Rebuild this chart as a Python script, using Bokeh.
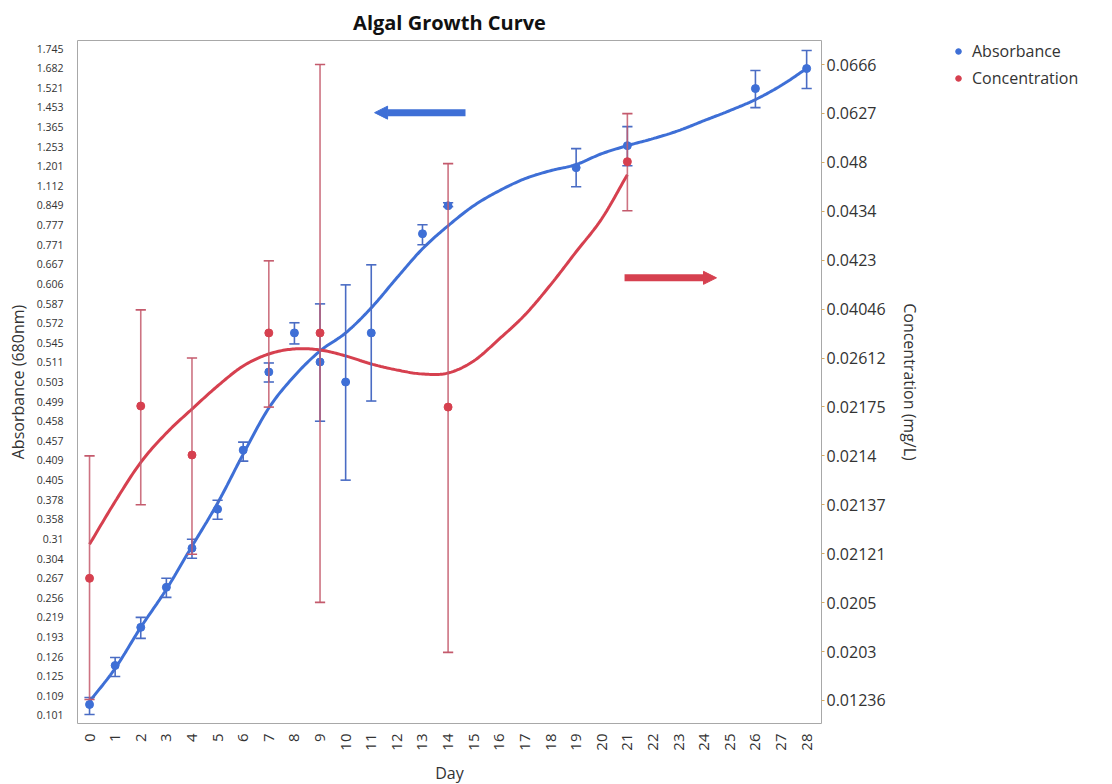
import numpy as np
from bokeh.plotting import figure
from bokeh.layouts import row
from bokeh.models import (Range1d, LinearAxis, FixedTicker, ColumnDataSource,
                          Arrow, NormalHead, Legend, LegendItem)
from bokeh.embed import file_html
from bokeh.resources import INLINE

# ---- axis categories (ordered, evenly spaced on each axis) ----
abs_tick_labels = ["0.101", "0.109", "0.125", "0.126", "0.193", "0.219", "0.256",
                   "0.267", "0.304", "0.31", "0.358", "0.378", "0.405", "0.409",
                   "0.457", "0.458", "0.499", "0.503", "0.511", "0.545", "0.572",
                   "0.587", "0.606", "0.667", "0.771", "0.777", "0.849", "1.112",
                   "1.201", "1.253", "1.365", "1.453", "1.521", "1.682", "1.745"]
conc_tick_labels = ["0.01236", "0.0203", "0.0205", "0.02121", "0.02137", "0.0214",
                    "0.02175", "0.02612", "0.04046", "0.0423", "0.0434", "0.048",
                    "0.0627", "0.0666"]
day_ticks = list(range(29))

# ---- absorbance (680 nm): mean and error bar ends ----
abs_days = [0, 1, 2, 3, 4, 5, 6, 7, 8, 9, 10, 11, 13, 14, 19, 21, 26, 28]
abs_mean = [0.10549, 0.12555, 0.20581, 0.26188, 0.30715, 0.36834, 0.43439, 0.50709,
            0.55855, 0.51171, 0.503, 0.55855, 0.77434, 0.84792, 1.19433, 1.25838,
            1.51814, 1.67862]
abs_upper = [0.10835, 0.12596, 0.21911, 0.26693, 0.30991, 0.37752, 0.45398, 0.51076,
             0.57229, 0.58673, 0.60509, 0.66535, 0.77808, 0.8853, 1.24754, 1.36658,
             1.6622, 1.73857]
abs_lower = [0.10141, 0.12486, 0.18838, 0.25626, 0.30409, 0.35812, 0.40887, 0.503,
             0.54296, 0.45804, 0.40492, 0.49912, 0.77038, 0.84425, 1.10017, 1.2024,
             1.45194, 1.51814]

# ---- concentration (mg/L): mean and error bar ends ----
conc_days = [0, 2, 4, 7, 9, 14, 21]
conc_mean = [0.020853, 0.021833, 0.021406, 0.033477, 0.033477, 0.021749, 0.048206]
conc_upper = [0.0214, 0.040231, 0.026149, 0.042276, 0.0666, 0.047876, 0.062656]
conc_lower = [0.012523, 0.02137, 0.021202, 0.021749, 0.020504, 0.020165, 0.043451]

# ---- fitted smoothing curves, sampled per day ----
abs_fit_days = list(range(29))
abs_fit = [0.10672, 0.12540, 0.20581, 0.26076, 0.30777, 0.37446, 0.42455, 0.48559,
           0.50546, 0.53082, 0.55855, 0.58367, 0.62485, 0.74916, 0.77678, 0.84792,
           1.04651, 1.1444, 1.18071, 1.20541, 1.23428, 1.25838, 1.29847, 1.34417,
           1.3936, 1.43848, 1.480, 1.53887, 1.67862]
conc_fit_days = list(range(22))
conc_fit = [0.021241, 0.021372, 0.021396, 0.021563, 0.021735, 0.023620, 0.025412,
            0.027310, 0.028787, 0.028486, 0.026737, 0.025591, 0.025054, 0.024695,
            0.024783, 0.025858, 0.031727, 0.038768, 0.041373, 0.042489, 0.043232,
            0.046841]

BLUE = "#3e6fd6"
RED = "#d6404f"
BLUE_BAR = "#4a6cc4"
RED_BAR = "#c45a6c"
FONT = "Open Sans"

abs_vals = [float(s) for s in abs_tick_labels]
conc_vals = [float(s) for s in conc_tick_labels]


def abs_pos(v):
    return np.interp(v, abs_vals, np.arange(len(abs_vals)))


def conc_pos(v):
    return np.interp(v, conc_vals, np.arange(len(conc_vals)))


def smooth(xk, yk, n=16):
    """Catmull-Rom curve through the sampled fit values."""
    xk = np.asarray(xk, float)
    yk = np.asarray(yk, float)
    yp = np.concatenate([[2 * yk[0] - yk[1]], yk, [2 * yk[-1] - yk[-2]]])
    xs, ys = [], []
    t = np.linspace(0, 1, n, endpoint=False)
    for i in range(len(xk) - 1):
        p0, p1, p2, p3 = yp[i], yp[i + 1], yp[i + 2], yp[i + 3]
        y = 0.5 * (2 * p1 + (-p0 + p2) * t + (2 * p0 - 5 * p1 + 4 * p2 - p3) * t ** 2
                   + (-p0 + 3 * p1 - 3 * p2 + p3) * t ** 3)
        xs.extend(xk[i] + (xk[i + 1] - xk[i]) * t)
        ys.extend(y)
    xs.append(xk[-1])
    ys.append(yk[-1])
    return xs, ys


p = figure(frame_width=744, frame_height=683, output_backend="svg",
           toolbar_location=None,
           x_range=Range1d(-0.47, 28.58), y_range=Range1d(-0.408, 34.408),
           min_border_left=77, min_border_right=130, min_border_top=40,
           min_border_bottom=61)
p.extra_y_ranges = {"conc": Range1d(-0.471, 13.491)}

p.title.text = "Algal Growth Curve"
p.title.align = "center"
p.title.text_font = FONT
p.title.text_font_size = "20px"
p.title.text_font_style = "bold"
p.title.text_color = "#111111"

p.grid.visible = False
p.outline_line_color = "#a8a8a8"
p.outline_line_width = 1
p.background_fill_color = "white"
p.border_fill_color = "white"

# x axis
xa = p.xaxis[0]
xa.ticker = FixedTicker(ticks=day_ticks)
xa.major_label_orientation = np.pi / 2
xa.axis_label = "Day"
xa.axis_label_text_font = FONT
xa.axis_label_text_font_size = "16px"
xa.axis_label_text_font_style = "normal"
xa.axis_label_text_color = "#333333"
xa.major_label_text_font = FONT
xa.major_label_text_font_size = "15px"
xa.major_label_text_color = "#333333"
xa.axis_line_color = None
xa.major_tick_line_color = None
xa.minor_tick_line_color = None
xa.major_label_standoff = 4
xa.axis_label_standoff = 8

# left axis (absorbance categories)
ya = p.yaxis[0]
ya.ticker = FixedTicker(ticks=list(range(len(abs_tick_labels))))
ya.major_label_overrides = {i: s for i, s in enumerate(abs_tick_labels)}
ya.axis_label = "Absorbance (680nm)"
ya.axis_label_text_font = FONT
ya.axis_label_text_font_size = "16px"
ya.axis_label_text_font_style = "normal"
ya.axis_label_text_color = "#333333"
ya.major_label_text_font = FONT
ya.major_label_text_font_size = "10.5px"
ya.major_label_text_color = "#333333"
ya.axis_line_color = None
ya.major_tick_line_color = None
ya.minor_tick_line_color = None
ya.major_label_standoff = 8

# right axis (concentration categories)
ra = LinearAxis(y_range_name="conc",
                ticker=FixedTicker(ticks=list(range(len(conc_tick_labels)))),
                major_label_overrides={i: s for i, s in enumerate(conc_tick_labels)})
ra.axis_label = "Concentration (mg/L)"
ra.axis_label_text_font = FONT
ra.axis_label_text_font_size = "16px"
ra.axis_label_text_font_style = "normal"
ra.axis_label_text_color = "#333333"
ra.major_label_text_font = FONT
ra.major_label_text_font_size = "16px"
ra.major_label_text_color = "#333333"
ra.axis_line_color = None
ra.major_tick_line_color = "#d4aa60"
ra.major_tick_in = 0
ra.major_tick_out = 3
ra.minor_tick_line_color = None
ra.major_label_standoff = 2
ra.axis_label_standoff = 10
p.add_layout(ra, "right")

# fitted curves
bx, by = smooth(abs_fit_days, abs_pos(abs_fit))
p.line(bx, by, line_color=BLUE, line_width=3)
rx, ry = smooth(conc_fit_days, conc_pos(conc_fit))
p.line(rx, ry, line_color=RED, line_width=3, y_range_name="conc")

cap = 0.2  # half width of the error-bar caps, in days

# absorbance error bars and points
a_src = ColumnDataSource(dict(
    x=abs_days, y=abs_pos(abs_mean), up=abs_pos(abs_upper), lo=abs_pos(abs_lower),
    xl=[d - cap for d in abs_days], xr=[d + cap for d in abs_days]))
p.segment("x", "lo", "x", "up", source=a_src, line_color=BLUE_BAR, line_width=1.6)
p.segment("xl", "up", "xr", "up", source=a_src, line_color=BLUE_BAR, line_width=1.6)
p.segment("xl", "lo", "xr", "lo", source=a_src, line_color=BLUE_BAR, line_width=1.6)
p.scatter("x", "y", source=a_src, size=8, fill_color=BLUE, line_color=BLUE)

# concentration error bars and points
c_src = ColumnDataSource(dict(
    x=conc_days, y=conc_pos(conc_mean), up=conc_pos(conc_upper), lo=conc_pos(conc_lower),
    xl=[d - cap for d in conc_days], xr=[d + cap for d in conc_days]))
p.segment("x", "lo", "x", "up", source=c_src, line_color=RED_BAR, line_width=1.6,
          line_alpha=0.85, y_range_name="conc")
p.segment("xl", "up", "xr", "up", source=c_src, line_color=RED_BAR, line_width=1.6,
          y_range_name="conc")
p.segment("xl", "lo", "xr", "lo", source=c_src, line_color=RED_BAR, line_width=1.6,
          y_range_name="conc")
p.scatter("x", "y", source=c_src, size=8, fill_color=RED, line_color=RED,
          y_range_name="conc")

# direction arrows pointing to each series' axis
p.add_layout(Arrow(x_start=14.68, y_start=30.73, x_end=11.13, y_end=30.73,
                   line_color=BLUE, line_width=7,
                   end=NormalHead(size=13, fill_color=BLUE, line_color=BLUE)))
p.add_layout(Arrow(x_start=20.89, y_start=22.31, x_end=24.48, y_end=22.31,
                   line_color=RED, line_width=7,
                   end=NormalHead(size=13, fill_color=RED, line_color=RED)))

# legend column to the right of the chart; its key markers sit outside the view
lg = figure(width=1112 - 951, height=784, output_backend="svg", toolbar_location=None,
            x_range=Range1d(0, 1), y_range=Range1d(0, 1),
            min_border_top=40, min_border_left=0, min_border_right=0,
            min_border_bottom=0)
lg.axis.visible = False
lg.grid.visible = False
lg.outline_line_color = None
r_abs = lg.scatter(x=[-5], y=[-5], size=8, fill_color=BLUE, line_color=BLUE)
r_conc = lg.scatter(x=[-5], y=[-5], size=8, fill_color=RED, line_color=RED)
legend = Legend(items=[LegendItem(label="Absorbance", renderers=[r_abs]),
                       LegendItem(label="Concentration", renderers=[r_conc])],
                location="top_left", border_line_color=None, background_fill_alpha=0,
                label_text_font=FONT, label_text_font_size="16px",
                label_text_color="#333333", glyph_width=14, glyph_height=14,
                spacing=5, padding=6, margin=0, label_standoff=7)
lg.add_layout(legend, "center")

open("out.html", "w").write(file_html(row(p, lg), INLINE))
